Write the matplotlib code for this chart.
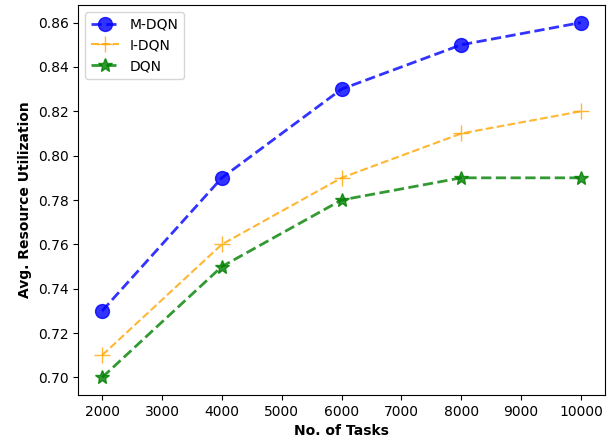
import matplotlib
matplotlib.use("Agg")
import matplotlib.pyplot as plt

tasks = [2000, 4000, 6000, 8000, 10000]
m_dqn = [0.73, 0.79, 0.83, 0.85, 0.86]
i_dqn = [0.71, 0.76, 0.79, 0.81, 0.82]
dqn = [0.70, 0.75, 0.78, 0.79, 0.79]

fig, ax = plt.subplots(figsize=(6.16, 4.42), dpi=100)
fig.subplots_adjust(left=0.127, right=0.982, top=0.989, bottom=0.106)

ax.plot(tasks, m_dqn, color="blue", linestyle="--", marker="o", markersize=10,
        linewidth=2, alpha=0.8, label="M-DQN")
ax.plot(tasks, i_dqn, color="orange", linestyle="--", marker="+", markersize=12,
        linewidth=1.5, alpha=0.8, label="I-DQN")
ax.plot(tasks, dqn, color="green", linestyle="--", marker="*", markersize=10,
        linewidth=2, alpha=0.8, label="DQN")

ax.set_xticks(range(2000, 10001, 1000))
ax.set_xlabel("No. of Tasks", fontweight="bold")
ax.set_ylabel("Avg. Resource Utilization", fontweight="bold")
ax.legend(loc="upper left")

fig.savefig("out.png", dpi=100)
